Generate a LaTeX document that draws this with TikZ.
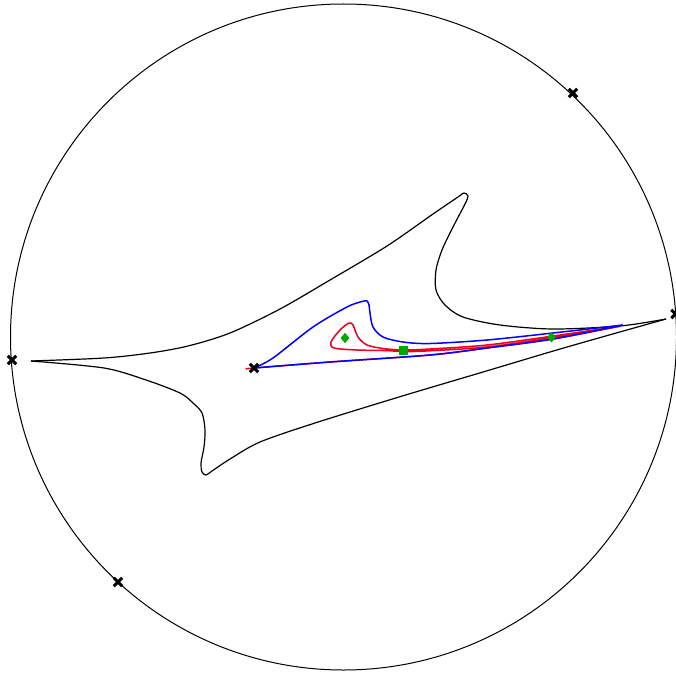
\documentclass[tikz,border=0pt]{standalone}
\usetikzlibrary{shapes.geometric}
\definecolor{mkgreen}{RGB}{0,168,0}
\definecolor{cblue}{RGB}{0,0,255}
\definecolor{cred}{RGB}{235,0,30}
\begin{document}
\begin{tikzpicture}[x=1bp,y=-1bp,line join=round,
  bdry/.style={line width=1bp,black},
  curve/.style={line width=1.2bp,black},
  bluec/.style={line width=1.5bp,cblue},
  redc/.style={line width=1.5bp,cred},
  xm/.pic={\draw[line width=3bp] (-4.2,-4.2)--(4.2,4.2) (-4.2,4.2)--(4.2,-4.2);},
  gdiam/.style={diamond,fill=mkgreen,inner sep=0pt,minimum width=9bp,minimum height=10.5bp},
  gsq/.style={rectangle,fill=mkgreen,inner sep=0pt,minimum size=8.5bp}]
\useasboundingbox (0,0) rectangle (676,674);
\begin{scope}
\clip (0,0) rectangle (676,674);
% boundary circle
\coordinate (O) at (343.5,337);
\draw[bdry] (O) circle[radius=333];
% black curve
\draw[curve] plot[smooth,tension=0.5] coordinates {(31,361) (104,358) (150,353) (188,346) (230,333) (280,309) (330,280) (387,246) (433,214) (458,197) (464,193) (468,196) (465,204) (453,227) (442,250) (436,270) (436,290) (445,305) (463,317) (500,325) (553,329) (620,326) (666,319)};
\draw[curve] plot[smooth,tension=0.5] coordinates {(666,319) (567,347) (483,372) (399,397) (315,423) (260,442) (230,459) (212,471) (206,475) (202,472) (201,463) (204,447) (205,430) (202,413) (193,403) (180,393) (146,380) (104,368) (31,361)};
% red curves
\draw[redc] plot[smooth,tension=0.5] coordinates {(247,369) (254,368) (330,362) (430,355) (487,348) (553,339) (621,326)};
\draw[redc] plot[smooth,tension=0.5] coordinates {(621,326) (551,338) (487,347) (430,350.8) (403,351.6) (387,350.6) (357,350) (334,348) (331,342) (340,330) (349,323) (353,325) (358,337) (367,345) (383,348.5) (403,350) (430,349) (487,345) (551,336.3) (621,326)};
% blue curve
\draw[bluec] plot[smooth,tension=0.5] coordinates {(254,368) (273,358) (313,327) (347,307) (362,301.5) (367,301) (369,305) (370,313) (373,327) (383,337) (403,342) (430,343.5) (487,340) (553,333) (623,325)};
\draw[bluec] plot[smooth,tension=0.5] coordinates {(623,325) (553,339) (487,348) (430,355) (330,362) (254,368)};
% markers
\node[gdiam] (d1) at (345,338) {};
\node[gdiam] (d2) at (551.5,337.3) {};
\node[gsq] (s1) at (403.3,350.7) {};
\coordinate (x1) at (254,368);
\coordinate (x2) at (12,360);
\coordinate (x3) at (118,582);
\coordinate (x4) at (573,93);
\coordinate (x5) at (675.5,314);
\foreach \p in {x1,x2,x3,x4,x5} \pic at (\p) {xm};
\end{scope}
\end{tikzpicture}
\end{document}
